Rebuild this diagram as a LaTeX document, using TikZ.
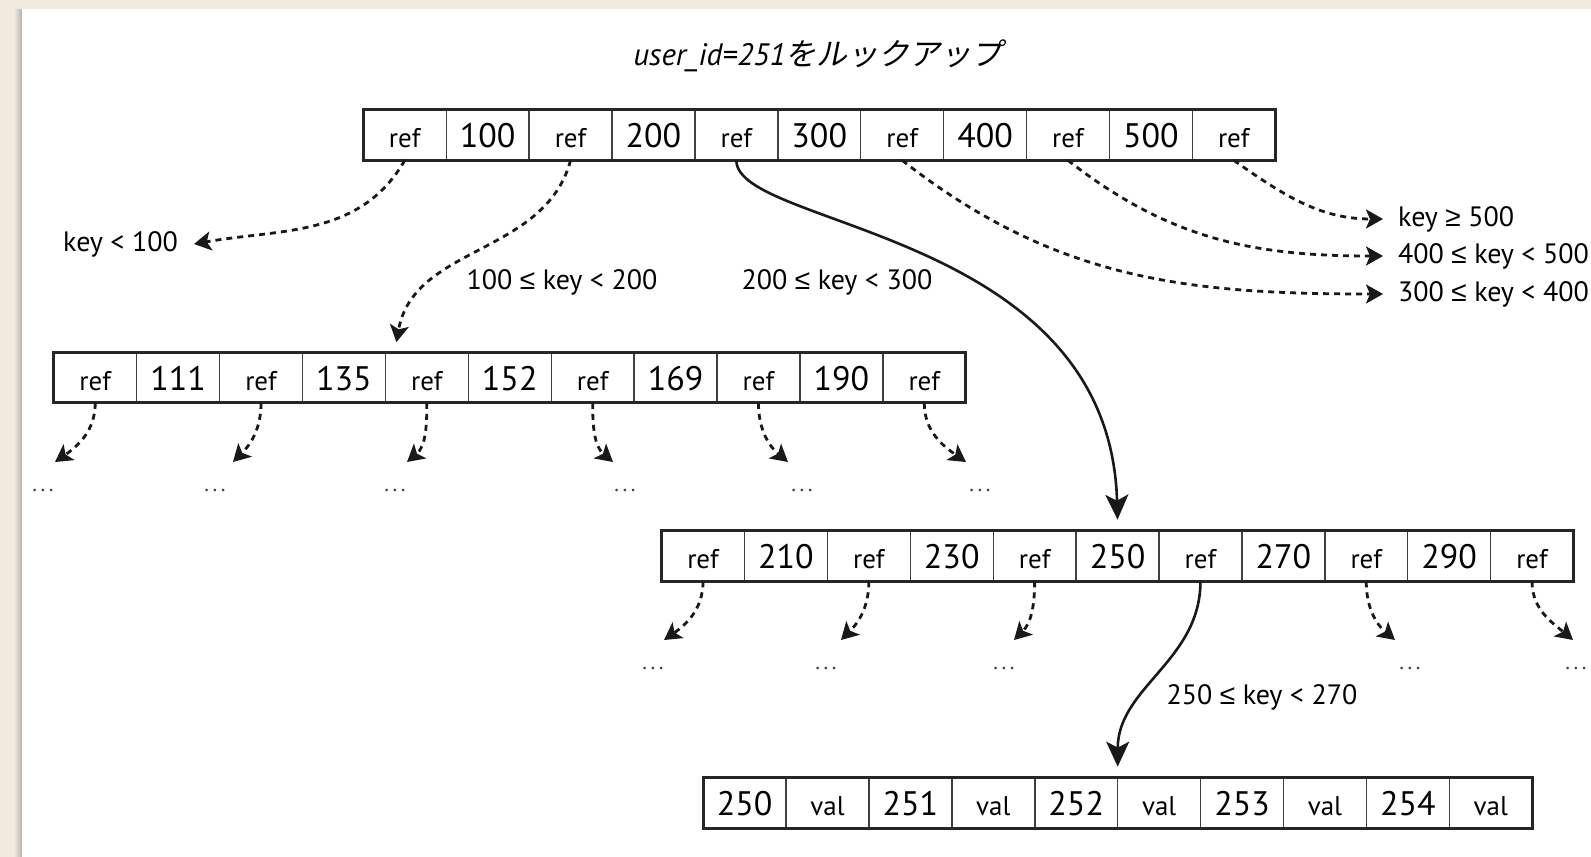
\documentclass[tikz,border=0pt]{standalone}
\usepackage{fontspec}
\setmainfont{PT Sans}
\newfontfamily\jpfont[FakeSlant=0.2]{Noto Sans CJK JP}
\newfontfamily\symfont{Liberation Sans}
\usetikzlibrary{arrows.meta}
\definecolor{paper}{RGB}{243,234,223}
\newcommand\moredots{.\kern3.5pt.\kern3.5pt.}
\newcommand\lesym{{\symfont ≤}}
\newcommand\gesym{{\symfont ≥}}

\begin{document}
\begin{tikzpicture}[x=1pt,y=1pt,
  cell/.style={draw=black!75,line width=1.4pt,minimum width=82.9pt,minimum height=50.7pt,
    inner sep=0pt,outer sep=0pt,text height=25pt,text depth=0pt},
  refcell/.style={cell,font=\fontsize{27}{27}\selectfont},
  keycell/.style={cell,font=\fontsize{34}{34}\selectfont},
  rowframe/.style={draw=black!85,line width=3pt},
  lbl/.style={font=\fontsize{28}{28}\selectfont,inner sep=0pt},
  more/.style={font=\fontsize{22}{22}\selectfont,inner sep=0pt,text=black!75},
  dasharrow/.style={-{Stealth[length=17pt,width=19pt,inset=4pt]},line width=2.8pt,
    dash pattern=on 6pt off 5pt,draw=black!90},
  patharrow/.style={-{Stealth[length=25pt,width=23pt,inset=6pt]},line width=2.6pt,draw=black!90}]
\useasboundingbox (0,0) rectangle (1591,-857);
% ---------- 背景 ----------
\fill[paper] (0,0) rectangle (1591,-857);
\shade[left color=paper,right color=black!30] (14,-9) rectangle (22,-857);
\fill[white] (22,-9) rectangle (1591,-857);
\node[font=\fontsize{31}{31}\selectfont] (title) at (818,-56) {\itshape user\_id=251{\jpfont をルックアップ}};
% ---------- ルート ----------
\foreach \k [count=\i] in {100,200,300,400,500}
  \node[keycell] (root-k\i) at ({363.3+82.9*(2*\i-0.5)},-135) {\k};
\foreach \i in {1,...,6}
  \node[refcell] (root-r\i) at ({363.3+82.9*(2*\i-1.5)},-135) {ref};
\draw[rowframe] (root-r1.north west) rectangle (root-r6.south east);
% ---------- 左の子 ----------
\foreach \k [count=\i] in {111,135,152,169,190}
  \node[keycell] (lt-k\i) at ({53.8+82.9*(2*\i-0.5)},-377.5) {\k};
\foreach \i in {1,...,6}
  \node[refcell] (lt-r\i) at ({53.8+82.9*(2*\i-1.5)},-377.5) {ref};
\draw[rowframe] (lt-r1.north west) rectangle (lt-r6.south east);
% ---------- 右の子 ----------
\foreach \k [count=\i] in {210,230,250,270,290}
  \node[keycell] (rt-k\i) at ({661.6+82.9*(2*\i-0.5)},-556) {\k};
\foreach \i in {1,...,6}
  \node[refcell] (rt-r\i) at ({661.6+82.9*(2*\i-1.5)},-556) {ref};
\draw[rowframe] (rt-r1.north west) rectangle (rt-r6.south east);
% ---------- リーフ ----------
\foreach \k [count=\i] in {250,251,252,253,254}{
  \node[keycell] (leaf-k\i) at ({703.2+82.9*(2*\i-1.5)},-803) {\k};
  \node[refcell] (leaf-v\i) at ({703.2+82.9*(2*\i-0.5)},-803) {val};
}
\draw[rowframe] (leaf-k1.north west) rectangle (leaf-v5.south east);
% ---------- 範囲ラベル ----------
\node[lbl,anchor=east] (lt100) at (178,-244) {key < 100};
\node[lbl] (in100) at (562,-282) {100 \lesym{} key < 200};
\node[lbl] (in200) at (837,-282) {200 \lesym{} key < 300};
\node[lbl,anchor=west] (ge500) at (1398,-219) {key \gesym{} 500};
\node[lbl,anchor=west] (in400) at (1398,-256) {400 \lesym{} key < 500};
\node[lbl,anchor=west] (in300) at (1398,-294) {300 \lesym{} key < 400};
\node[lbl] (in250) at (1262,-697) {250 \lesym{} key < 270};
% 省略記号
\foreach \x [count=\i] in {43,215,395,625,802,980}
  \node[more] (lt-d\i) at (\x,-490) {\moredots};
\foreach \i/\x in {1/653,2/826,3/1004,5/1410,6/1576}
  \node[more] (rt-d\i) at (\x,-668) {\moredots};
% ---------- ルートからの参照 ----------
\draw[dasharrow] (root-r1.south) to[out=240,in=10] ([xshift=16pt]lt100.east);
\draw[dasharrow] (root-r2.south) to[out=255,in=80] ([xshift=11pt,yshift=10pt]lt-r3.north west);
\draw[patharrow] (root-r3.south) .. controls +(0,-68) and +(-8,290) .. ([yshift=11pt]rt-k3.north);
\draw[dasharrow] (root-r4.south) to[out=-38,in=180] ([xshift=-15pt]in300.west);
\draw[dasharrow] (root-r5.south) to[out=-38,in=180] ([xshift=-15pt]in400.west);
\draw[dasharrow] (root-r6.south) to[out=-35,in=180] ([xshift=-15pt]ge500.west);
% ---------- 子からの参照 ----------
\foreach \i/\dx/\a in {1/12/35, 2/18/45, 3/12/40, 4/-12/140, 5/-14/140, 6/-14/145}
  \draw[dasharrow] (lt-r\i.south) to[out=-90,in=\a] ([shift={(\dx,28)}]lt-d\i.center);
\foreach \i/\dx/\a in {1/11/35, 2/15/45, 3/10/45, 5/-15/140, 6/-3/140}
  \draw[dasharrow] (rt-r\i.south) to[out=-90,in=\a] ([shift={(\dx,28)}]rt-d\i.center);
\draw[patharrow] (rt-r4.south) to[out=-90,in=90] ([yshift=11pt]leaf-k3.north east);
\end{tikzpicture}
\end{document}
